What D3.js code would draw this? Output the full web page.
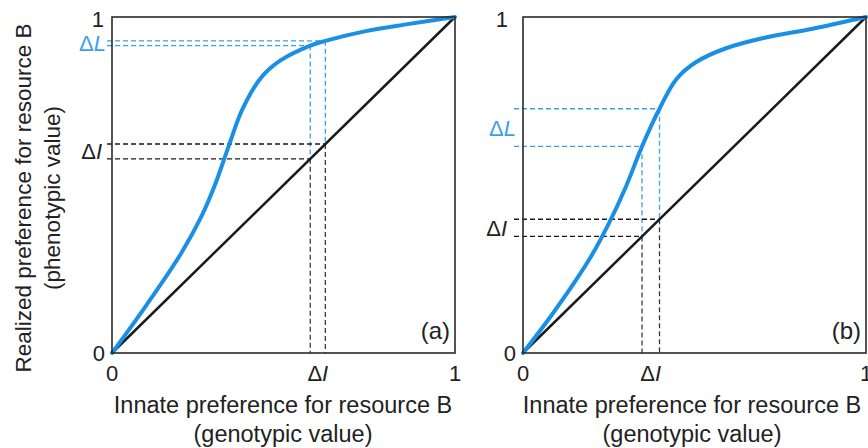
<!DOCTYPE html>
<html>
<head>
<meta charset="utf-8">
<script src="https://cdn.jsdelivr.net/npm/d3@7"></script>
<style>
  html, body { margin: 0; padding: 0; background: #fff; }
  svg { display: block; font-family: "Liberation Sans", Arial, sans-serif; }
</style>
</head>
<body>
<svg id="chart" width="868" height="448"></svg>
<script>
// ---- Data ----
const axisTicks = [0, 1];
const tickLabels = ["0", "1"];
const panelLabels = ["(a)", "(b)"];
const xTitle = ["Innate preference for resource B", "(genotypic value)"];
const yTitle = ["Realized preference for resource B", "(phenotypic value)"];
const identityX = [0, 1];

// Panel (a) realized preference curve
const curveAX = [0, 0.1, 0.2, 0.26, 0.3, 0.34, 0.38, 0.435, 0.49, 0.578, 0.622, 0.74, 0.857, 1];
const curveAY = [0, 0.142, 0.294, 0.405, 0.5, 0.615, 0.725, 0.82, 0.87, 0.915, 0.929, 0.958, 0.978, 1];
const deltaIA = [0.578, 0.622];
const deltaLA = [0.915, 0.929];

// Panel (b) realized preference curve
const curveBX = [0, 0.08, 0.15, 0.2, 0.25, 0.3, 0.347, 0.398, 0.447, 0.505, 0.592, 0.708, 0.844, 1];
const curveBY = [0, 0.108, 0.21, 0.29, 0.385, 0.495, 0.615, 0.727, 0.815, 0.866, 0.907, 0.939, 0.965, 1];
const deltaIB = [0.347, 0.398];
const deltaLB = [0.615, 0.727];

const BLUE = "#1a8fe6";
const BLUE_DASH = "#3d9fe6";
const DARK = "#1a1a1a";

const svg = d3.select("#chart");

const panels = [
  { x0: 112, x1: 455, y0: 17, y1: 353, cx: curveAX, cy: curveAY, dI: deltaIA, dL: deltaLA, label: panelLabels[0],
    dashStart: 107, lLabelX: 106, iLabelX: 102, yTickX: 104, showY: true, xTitleCx: 283 },
  { x0: 523, x1: 866, y0: 17, y1: 353, cx: curveBX, cy: curveBY, dI: deltaIB, dL: deltaLB, label: panelLabels[1],
    dashStart: 514, lLabelX: 516, iLabelX: 507, yTickX: 508, showY: false, xTitleCx: 692 }
];

panels.forEach(p => {
  const x = d3.scaleLinear().domain([0, 1]).range([p.x0, p.x1]);
  const y = d3.scaleLinear().domain([0, 1]).range([p.y1, p.y0]);
  const g = svg.append("g");

  // dashed guide lines (drawn first)
  const dash = "5,3";
  p.dI.forEach((v, i) => {
    const lv = p.dL[i];
    g.append("line").attr("x1", p.dashStart).attr("x2", x(v)).attr("y1", y(v)).attr("y2", y(v))
      .attr("stroke", DARK).attr("stroke-width", 1.3).attr("stroke-dasharray", dash);
    g.append("line").attr("x1", p.dashStart).attr("x2", x(v)).attr("y1", y(lv)).attr("y2", y(lv))
      .attr("stroke", BLUE_DASH).attr("stroke-width", 1.3).attr("stroke-dasharray", dash);
    g.append("line").attr("x1", x(v)).attr("x2", x(v)).attr("y1", y(lv)).attr("y2", y(v))
      .attr("stroke", BLUE_DASH).attr("stroke-width", 1.3).attr("stroke-dasharray", dash);
    g.append("line").attr("x1", x(v)).attr("x2", x(v)).attr("y1", y(v)).attr("y2", y(0))
      .attr("stroke", DARK).attr("stroke-width", 1.3).attr("stroke-dasharray", dash).attr("opacity", 0.85);
  });

  // identity line
  g.append("path")
    .attr("d", d3.line().x(d => x(d)).y(d => y(d))(identityX))
    .attr("stroke", DARK).attr("stroke-width", 2.5).attr("fill", "none");

  // realized curve
  const pts = p.cx.map((v, i) => [v, p.cy[i]]);
  g.append("path")
    .attr("d", d3.line().x(d => x(d[0])).y(d => y(d[1])).curve(d3.curveCatmullRom.alpha(0.5))(pts))
    .attr("stroke", BLUE).attr("stroke-width", 4).attr("fill", "none").attr("stroke-linecap", "round");

  // frame
  g.append("rect").attr("x", p.x0).attr("y", p.y0).attr("width", p.x1 - p.x0).attr("height", p.y1 - p.y0)
    .attr("fill", "none").attr("stroke", "#2a2a2a").attr("stroke-width", 1.6);

  // x tick labels
  axisTicks.forEach((t, i) => {
    g.append("text").attr("x", x(t)).attr("y", p.y1 + 28).attr("text-anchor", "middle")
      .attr("font-size", 22).attr("fill", "#222").text(tickLabels[i]);
  });
  const xm = x((p.dI[0] + p.dI[1]) / 2);
  const tx = g.append("text").attr("x", xm).attr("y", p.y1 + 28).attr("text-anchor", "middle")
    .attr("font-size", 22).attr("fill", "#222");
  tx.append("tspan").text("Δ");
  tx.append("tspan").attr("font-style", "italic").text("I");

  // y tick labels
  g.append("text").attr("x", p.yTickX).attr("y", y(1) + 10).attr("text-anchor", "end")
    .attr("font-size", 22).attr("fill", "#222").text(tickLabels[1]);
  g.append("text").attr("x", p.x0 - 7).attr("y", y(0) + 8).attr("text-anchor", "end")
    .attr("font-size", 22).attr("fill", "#222").text(tickLabels[0]);

  // y delta labels
  const ly = (y(p.dL[0]) + y(p.dL[1])) / 2;
  const tl = g.append("text").attr("x", p.lLabelX).attr("y", ly + 8).attr("text-anchor", "end")
    .attr("font-size", 22).attr("fill", BLUE_DASH);
  tl.append("tspan").text("Δ");
  tl.append("tspan").attr("font-style", "italic").text("L");

  const iy = (y(p.dI[0]) + y(p.dI[1])) / 2;
  const ti = g.append("text").attr("x", p.iLabelX).attr("y", iy + 8).attr("text-anchor", "end")
    .attr("font-size", 22).attr("fill", "#222");
  ti.append("tspan").text("Δ");
  ti.append("tspan").attr("font-style", "italic").text("I");

  // panel label
  g.append("text").attr("x", p.x1 - 5).attr("y", p.y1 - 14).attr("text-anchor", "end")
    .attr("font-size", 24).attr("fill", "#222").text(p.label);

  // x axis title
  g.append("text").attr("x", p.xTitleCx).attr("y", 413).attr("text-anchor", "middle")
    .attr("font-size", 23.5).attr("fill", "#222").text(xTitle[0]);
  g.append("text").attr("x", p.xTitleCx).attr("y", 442).attr("text-anchor", "middle")
    .attr("font-size", 23.5).attr("fill", "#222").text(xTitle[1]);

  if (p.showY) {
    const cy = 198;
    g.append("text").attr("transform", `translate(31,${cy}) rotate(-90)`).attr("text-anchor", "middle")
      .attr("font-size", 22.5).attr("fill", "#222").text(yTitle[0]);
    g.append("text").attr("transform", `translate(60,${cy}) rotate(-90)`).attr("text-anchor", "middle")
      .attr("font-size", 22.5).attr("fill", "#222").text(yTitle[1]);
  }
});
</script>
</body>
</html>
